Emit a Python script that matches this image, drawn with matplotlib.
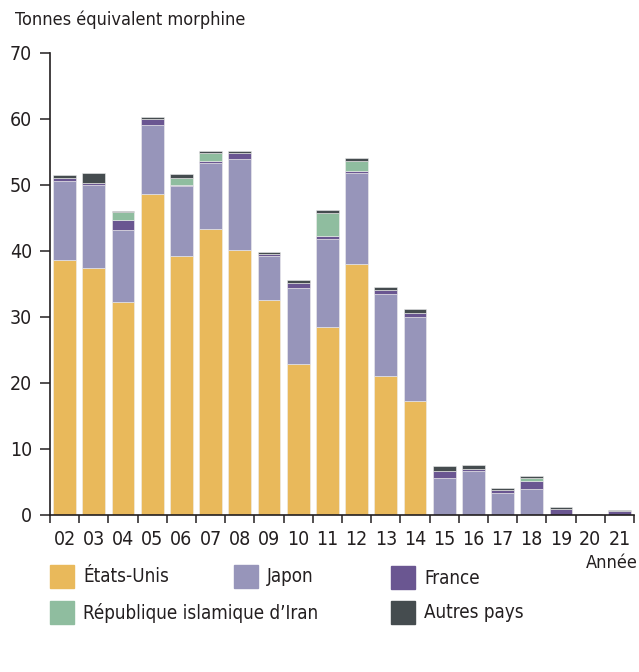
import numpy as np
from matplotlib import pyplot as plt
from matplotlib import font_manager
from matplotlib.patches import Rectangle

# pick a condensed face if one is installed
names = {(f.name, f.stretch) for f in font_manager.fontManager.ttflist}
fam = ['DejaVu Sans']
if any('Liberation Sans Narrow' == n for n, s in names):
    fam = ['Liberation Sans Narrow', 'DejaVu Sans']
elif any(n == 'DejaVu Sans' and s == 'condensed' for n, s in names):
    plt.rcParams['font.stretch'] = 'condensed'
else:
    fam = ['Roboto', 'DejaVu Sans']
plt.rcParams['font.family'] = fam
plt.rcParams['font.size'] = 13
plt.rcParams['text.color'] = '#231f20'

# data (tonnes morphine equivalent)
years = ['02', '03', '04', '05', '06', '07', '08', '09', '10', '11',
         '12', '13', '14', '15', '16', '17', '18', '19', '20', '21']
us = [38.7, 37.4, 32.2, 48.6, 39.3, 43.4, 40.2, 32.6, 22.9, 28.5,
      38.0, 21.1, 17.3, 0, 0, 0, 0, 0, 0, 0]
japon = [11.9, 12.6, 11.0, 10.5, 10.5, 9.9, 13.8, 6.7, 11.5, 13.3,
         13.8, 12.4, 12.7, 5.55, 6.65, 3.35, 3.95, 0, 0, 0]
france = [0.5, 0.3, 1.5, 0.9, 0.2, 0.4, 0.85, 0.2, 0.8, 0.45,
          0.3, 0.6, 0.55, 1.15, 0.35, 0.4, 1.15, 0.9, 0.05, 0.55]
iran = [0, 0, 1.2, 0, 1.1, 1.15, 0, 0, 0, 3.5,
        1.55, 0, 0, 0, 0, 0, 0.55, 0, 0, 0]
autres = [0.4, 1.5, 0.2, 0.25, 0.6, 0.25, 0.25, 0.3, 0.35, 0.45,
          0.4, 0.4, 0.6, 0.75, 0.55, 0.3, 0.25, 0.3, 0.1, 0.15]

series = [('États-Unis', us, '#e9b95b'),
          ('Japon', japon, '#9795ba'),
          ('France', france, '#6a5691'),
          ('République islamique d\u2019Iran', iran, '#8fbd9f'),
          ('Autres pays', autres, '#454c4f')]

fig = plt.figure(figsize=(6.39, 6.72), dpi=100)
ax = fig.add_axes([50/639, 1-515/672, 584/639, 462/672])

x = np.arange(len(years))
bottom = np.zeros(len(years))
for name, vals, col in series:
    vals = np.array(vals)
    ax.bar(x, vals, 0.78, bottom=bottom, color=col, edgecolor='#eeeeee',
           linewidth=0.4)
    bottom += vals

ax.set_xlim(-0.5, len(years) - 0.5)
ax.set_ylim(0, 70)
for s in ['top', 'right']:
    ax.spines[s].set_visible(False)
for s in ['left', 'bottom']:
    ax.spines[s].set_color('#231f20')
    ax.spines[s].set_linewidth(1.2)

ax.set_yticks(range(0, 80, 10))
ax.tick_params(axis='y', direction='out', length=7, width=1.1, pad=6,
               labelsize=14, colors='#231f20')
ax.set_xticks(x)
ax.set_xticklabels(years)
ax.set_xticks(np.arange(-0.5, len(years)), minor=True)
ax.tick_params(axis='x', which='major', length=0, pad=11, labelsize=14,
               colors='#231f20')
ax.tick_params(axis='x', which='minor', length=6, width=1.1, color='#231f20')

fig.text(15/639, 1-20/672, 'Tonnes équivalent morphine', fontsize=13,
         va='center', ha='left')
fig.text(638/639, 1-563/672, 'Année', fontsize=13, va='center', ha='right')

# legend drawn by hand to keep the reference layout
leg_pos = [(50, 565), (234, 565), (391, 566), (50, 601), (391, 601)]
for (name, vals, col), (lx, ly) in zip(series, leg_pos):
    fig.add_artist(Rectangle((lx/639, 1-(ly+23)/672), 24/639, 23/672,
                             transform=fig.transFigure, color=col))
    fig.text((lx+33)/639, 1-(ly+12)/672, name, fontsize=13.5, va='center',
             ha='left')

plt.savefig('out.png', dpi=100)
